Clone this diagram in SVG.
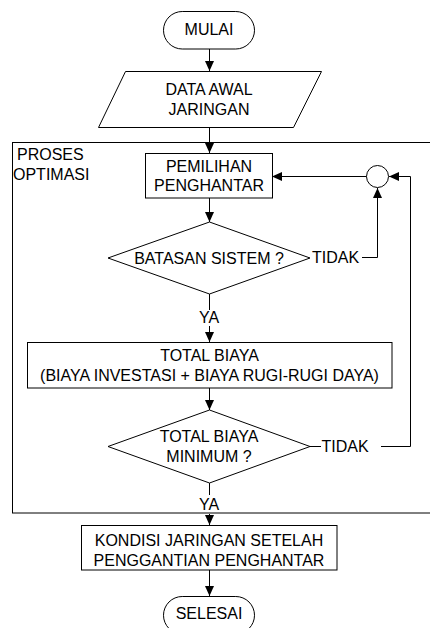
<svg xmlns="http://www.w3.org/2000/svg" width="430" height="628" viewBox="0 0 430 628">
  <style>
    .shape { fill: #ffffff; stroke: #000000; stroke-width: 1; }
    .frame { fill: none; stroke: #000000; stroke-width: 1; }
    .line { fill: none; stroke: #000000; stroke-width: 1; }
    .arrow { fill: none; stroke: #000000; stroke-width: 1; marker-end: url(#head); }
    text { font-family: "Liberation Sans", Arial, sans-serif; font-size: 16px; fill: #000000; }
    .c { text-anchor: middle; }
  </style>
  <defs>
    <marker id="head" viewBox="0 0 10 10" refX="10" refY="5" markerWidth="10" markerHeight="10" markerUnits="userSpaceOnUse" orient="auto">
      <path d="M0,0.5 L10,5 L0,9.5 Z" fill="#000000"/>
    </marker>
  </defs>
  <rect width="430" height="628" fill="#ffffff"/>

  <!-- optimisation frame -->
  <g id="proses-optimasi">
    <rect class="frame" x="12.5" y="142.5" width="430" height="370.5"/>
    <text x="17" y="160">PROSES</text>
    <text x="13" y="180">OPTIMASI</text>
  </g>

  <g id="connectors">
    <path class="arrow" d="M209.5,49 V71"/>
    <path class="arrow" d="M209.5,127 V153"/>
    <path class="arrow" d="M209.5,198 V222"/>
    <path class="line" d="M209.5,294 V310"/>
    <path class="arrow" d="M209.5,326 V342"/>
    <path class="arrow" d="M209.5,388 V410"/>
    <path class="line" d="M209.5,483 V495"/>
    <path class="arrow" d="M209.5,514 V525"/>
    <path class="arrow" d="M209.5,570 V596"/>
    <!-- TIDAK from system constraint check -->
    <path class="arrow" d="M362,257.5 H377.5 V188"/>
    <!-- TIDAK from minimum cost check -->
    <path class="line" d="M310,446.5 H321"/>
    <path class="arrow" d="M381,446.5 H410.5 V176.5 H389"/>
    <!-- junction back to conductor selection -->
    <path class="arrow" d="M367,176.5 H272"/>
  </g>

  <g id="mulai">
    <rect class="shape" x="163.5" y="11.5" width="91" height="37.5" rx="18.75"/>
    <text class="c" x="209" y="35">MULAI</text>
  </g>

  <g id="data-awal">
    <polygon class="shape" points="125.5,71.5 321.5,71.5 293.5,127.5 98.5,127.5"/>
    <text class="c" x="209" y="95">DATA AWAL</text>
    <text class="c" x="209" y="115">JARINGAN</text>
  </g>

  <g id="pemilihan">
    <rect class="shape" x="145.5" y="153.5" width="127" height="44.5"/>
    <text class="c" x="209" y="172">PEMILIHAN</text>
    <text class="c" x="209" y="191">PENGHANTAR</text>
  </g>

  <g id="junction">
    <circle class="shape" cx="377.5" cy="176.5" r="11"/>
  </g>

  <g id="batasan">
    <polygon class="shape" points="209.5,222 310,258 209.5,294 108,258"/>
    <text class="c" x="209" y="264">BATASAN SISTEM ?</text>
    <text x="312" y="263">TIDAK</text>
    <text class="c" x="209" y="323">YA</text>
  </g>

  <g id="total-biaya">
    <rect class="shape" x="27.5" y="342.5" width="364.5" height="45.5"/>
    <text class="c" x="209.5" y="361">TOTAL BIAYA</text>
    <text class="c" x="209.5" y="381">(BIAYA INVESTASI + BIAYA RUGI-RUGI DAYA)</text>
  </g>

  <g id="minimum">
    <polygon class="shape" points="209.5,410 310,446.5 209.5,483 108,446.5"/>
    <text class="c" x="209" y="442">TOTAL BIAYA</text>
    <text class="c" x="209" y="462">MINIMUM ?</text>
    <text x="321.5" y="452">TIDAK</text>
    <text class="c" x="209" y="510">YA</text>
  </g>

  <g id="kondisi">
    <rect class="shape" x="81.5" y="525.5" width="255.5" height="44.5"/>
    <text class="c" x="209" y="546">KONDISI JARINGAN SETELAH</text>
    <text class="c" x="209" y="566">PENGGANTIAN PENGHANTAR</text>
  </g>

  <g id="selesai">
    <rect class="shape" x="163.5" y="596.5" width="91" height="37.5" rx="18.75"/>
    <text class="c" x="209" y="619">SELESAI</text>
  </g>
</svg>
